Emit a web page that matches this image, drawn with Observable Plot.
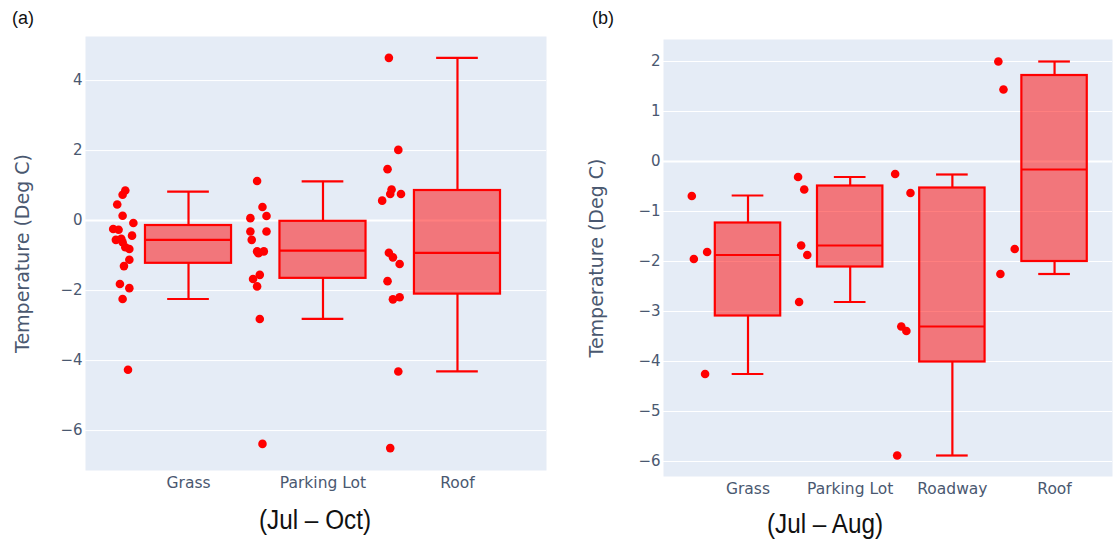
<!DOCTYPE html>
<html>
<head>
<meta charset="utf-8">
<script src="https://cdn.jsdelivr.net/npm/d3@7"></script>
<script src="https://cdn.jsdelivr.net/npm/@observablehq/plot@0.6"></script>
<style>
  html, body { margin: 0; padding: 0; background: #fff; }
  #wrap { position: relative; width: 1118px; height: 541px; overflow: hidden; }
  .panel { position: absolute; top: 0; }
  .letter { position: absolute; font-family: "Liberation Sans", Arial, sans-serif; font-size: 18px; color: #111; }
  .cap { position: absolute; font-family: "Liberation Sans", Arial, sans-serif; font-size: 27px; color: #111; white-space: nowrap; transform: translateX(-50%) scaleX(0.9); }
</style>
</head>
<body>
<div id="wrap">
  <div class="panel" id="pa" style="left:0px"></div>
  <div class="panel" id="pb" style="left:560px"></div>
  <div class="letter" style="left:12px; top:8px">(a)</div>
  <div class="letter" style="left:592px; top:8px">(b)</div>
  <div class="cap" style="left:315px; top:505px">(Jul – Oct)</div>
  <div class="cap" style="left:825px; top:509px">(Jul – Aug)</div>
</div>
<script>
// ---------- Panel (a): Jul – Oct ----------
const catsA = ["Grass", "Parking Lot", "Roof"];
const loA  = [-2.24, -2.81, -4.31];
const q1A  = [-1.22, -1.65, -2.10];
const medA = [-0.55, -0.86, -0.92];
const q3A  = [-0.14, -0.02, 0.86];
const hiA  = [0.83, 1.12, 4.65];
const ticksA = [-6, -4, -2, 0, 2, 4];
const grassA = [0.86, 0.74, 0.46, 0.14, -0.07, -0.24, -0.26, -0.43, -0.55, -0.52, -0.62, -0.76, -0.81, -1.12, -1.30, -1.81, -1.93, -2.24, -4.26];
const grassAJit = [-0.47, -0.49, -0.53, -0.49, -0.41, -0.56, -0.52, -0.42, -0.54, -0.50, -0.49, -0.47, -0.44, -0.44, -0.48, -0.51, -0.44, -0.49, -0.45];
const parkA = [1.13, 0.39, 0.13, 0.07, -0.31, -0.31, -0.55, -0.88, -0.88, -0.93, -1.55, -1.67, -1.88, -2.81, -6.38];
const parkAJit = [-0.49, -0.45, -0.42, -0.54, -0.54, -0.42, -0.53, -0.49, -0.44, -0.48, -0.47, -0.52, -0.49, -0.47, -0.45];
const roofA = [4.65, 2.02, 1.47, 0.89, 0.76, 0.76, 0.57, -0.92, -1.05, -1.24, -1.73, -2.25, -2.19, -4.31, -6.50];
const roofAJit = [-0.51, -0.44, -0.52, -0.49, -0.50, -0.42, -0.56, -0.51, -0.48, -0.43, -0.52, -0.48, -0.43, -0.44, -0.50];

// ---------- Panel (b): Jul – Aug ----------
const catsB = ["Grass", "Parking Lot", "Roadway", "Roof"];
const loB  = [-4.25, -2.81, -5.88, -2.25];
const q1B  = [-3.09, -2.11, -4.01, -2.00];
const medB = [-1.87, -1.68, -3.30, -0.16];
const q3B  = [-1.23, -0.49, -0.53, 1.72];
const hiB  = [-0.68, -0.31, -0.26, 2.00];
const ticksB = [-6, -5, -4, -3, -2, -1, 0, 1, 2];
const grassB = [-0.69, -1.95, -1.81, -4.25];
const grassBJit = [-0.55, -0.53, -0.40, -0.42];
const parkB = [-0.31, -0.56, -1.68, -1.87, -2.81];
const parkBJit = [-0.51, -0.45, -0.48, -0.42, -0.50];
const roadB = [-0.25, -0.63, -3.30, -3.39, -5.88];
const roadBJit = [-0.56, -0.41, -0.50, -0.45, -0.54];
const roofB = [2.00, 1.44, -1.75, -2.25];
const roofBJit = [-0.55, -0.50, -0.39, -0.53];

const yTitle = "Temperature (Deg C)";
const RED = "#ff0000";
const INK = "#4a5870";

function panel(cfg) {
  const {cats, lo, q1, med, q3, hi, pts, jit, ticks, xDomain, yDomain, width, height, m, titleDx} = cfg;
  const stats = cats.map((c, i) => ({i, lo: lo[i], q1: q1[i], med: med[i], q3: q3[i], hi: hi[i]}));
  const points = pts.flatMap((vs, i) => vs.map((v, j) => ({x: i + jit[i][j], v})));
  const bw = 0.32, cw = 0.155;
  return Plot.plot({
    width, height,
    marginLeft: m[3], marginTop: m[0], marginRight: m[1], marginBottom: m[2],
    style: {background: "transparent", fontFamily: "'DejaVu Sans', Verdana, sans-serif", fontSize: "15px", color: INK},
    x: {type: "linear", domain: xDomain, axis: null},
    y: {domain: yDomain, axis: null},
    marks: [
      Plot.frame({fill: "#e5ecf6", stroke: null}),
      Plot.gridY(ticks, {stroke: "#fff", strokeOpacity: 1, strokeWidth: 1}),
      Plot.ruleY([0], {stroke: "#fff", strokeWidth: 2}),
      Plot.axisY(ticks, {tickSize: 0, tickPadding: 3, label: null, fontSize: 15, tickFormat: d3.format("d")}),
      Plot.axisX(d3.range(cats.length), {tickSize: 0, tickPadding: 6, label: null, tickFormat: i => cats[i], fontSize: 15.5}),
      Plot.text([yTitle], {frameAnchor: "left", textAnchor: "middle", lineAnchor: "middle", rotate: -90, dx: titleDx, fontSize: 19, fill: INK}),
      Plot.ruleX(stats, {x: "i", y1: "lo", y2: "q1", stroke: RED, strokeWidth: 2.2}),
      Plot.ruleX(stats, {x: "i", y1: "q3", y2: "hi", stroke: RED, strokeWidth: 2.2}),
      Plot.ruleY(stats, {y: "lo", x1: d => d.i - cw, x2: d => d.i + cw, stroke: RED, strokeWidth: 2.2}),
      Plot.ruleY(stats, {y: "hi", x1: d => d.i - cw, x2: d => d.i + cw, stroke: RED, strokeWidth: 2.2}),
      Plot.rect(stats, {x1: d => d.i - bw, x2: d => d.i + bw, y1: "q1", y2: "q3", fill: RED, fillOpacity: 0.5, stroke: RED, strokeWidth: 2.2}),
      Plot.ruleY(stats, {y: "med", x1: d => d.i - bw, x2: d => d.i + bw, stroke: RED, strokeWidth: 2.2}),
      Plot.dot(points, {x: "x", y: "v", r: 4.3, fill: RED, stroke: null})
    ]
  });
}

document.getElementById("pa").append(panel({
  cats: catsA, lo: loA, q1: q1A, med: medA, q3: q3A, hi: hiA,
  pts: [grassA, parkA, roofA], jit: [grassAJit, parkAJit, roofAJit],
  ticks: ticksA, xDomain: [-0.766, 2.662], yDomain: [-7.14, 5.26],
  width: 560, height: 500, m: [36, 14, 30, 85], titleDx: -63
}));

document.getElementById("pb").append(panel({
  cats: catsB, lo: loB, q1: q1B, med: medB, q3: q3B, hi: hiB,
  pts: [grassB, parkB, roadB, roofB], jit: [grassBJit, parkBJit, roadBJit, roofBJit],
  ticks: ticksB, xDomain: [-0.827, 3.567], yDomain: [-6.3, 2.44],
  width: 558, height: 505, m: [39, 6, 29, 103], titleDx: -67
}));
</script>
</body>
</html>
